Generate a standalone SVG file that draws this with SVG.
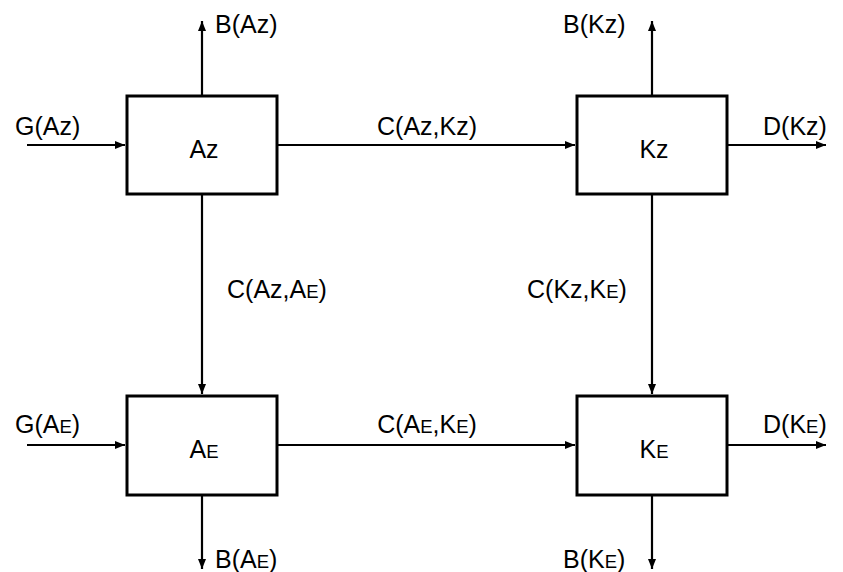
<svg xmlns="http://www.w3.org/2000/svg" width="843" height="572" viewBox="0 0 843 572">
  <style>
    .box { fill: #ffffff; stroke: #000000; stroke-width: 3; }
    .wire { fill: none; stroke: #000000; stroke-width: 2.2; marker-end: url(#arrow); }
    text { font-family: "Liberation Sans", Arial, sans-serif; font-size: 25px; fill: #000000; }
    .sc { font-size: 18.5px; }
    .mid { text-anchor: middle; }
  </style>
  <defs>
    <marker id="arrow" markerUnits="userSpaceOnUse" markerWidth="11" markerHeight="9" refX="10" refY="4" orient="auto">
      <path d="M0,0 L10,4 L0,8 Z" fill="#000000"/>
    </marker>
  </defs>

  <!-- connectors -->
  <g id="connectors">
    <line class="wire" x1="202" y1="95" x2="202" y2="21"/>
    <line class="wire" x1="652" y1="95" x2="652" y2="21"/>
    <line class="wire" x1="27" y1="145" x2="125" y2="145"/>
    <line class="wire" x1="278" y1="145" x2="575" y2="145"/>
    <line class="wire" x1="728" y1="145" x2="826" y2="145"/>
    <line class="wire" x1="202" y1="195" x2="202" y2="394"/>
    <line class="wire" x1="652" y1="195" x2="652" y2="394"/>
    <line class="wire" x1="27" y1="445" x2="125" y2="445"/>
    <line class="wire" x1="278" y1="445" x2="575" y2="445"/>
    <line class="wire" x1="728" y1="445" x2="826" y2="445"/>
    <line class="wire" x1="202" y1="496" x2="202" y2="569"/>
    <line class="wire" x1="652" y1="496" x2="652" y2="569"/>
  </g>

  <!-- connector labels -->
  <g id="labels">
    <text x="215" y="33">B(Az)</text>
    <text x="563" y="33">B(Kz)</text>
    <text x="15" y="135">G(Az)</text>
    <text x="427" y="135" class="mid">C(Az,Kz)</text>
    <text x="763" y="135">D(Kz)</text>
    <text x="227" y="298">C(Az,A<tspan class="sc">E</tspan>)</text>
    <text x="527" y="298">C(Kz,K<tspan class="sc">E</tspan>)</text>
    <text x="15" y="433">G(A<tspan class="sc">E</tspan>)</text>
    <text x="427" y="433" class="mid">C(A<tspan class="sc">E</tspan>,K<tspan class="sc">E</tspan>)</text>
    <text x="763" y="433">D(K<tspan class="sc">E</tspan>)</text>
    <text x="215" y="568">B(A<tspan class="sc">E</tspan>)</text>
    <text x="563" y="568">B(K<tspan class="sc">E</tspan>)</text>
  </g>

  <!-- nodes -->
  <g id="node-az">
    <rect class="box" x="127" y="96" width="150" height="98"/>
    <text x="204" y="158" class="mid">Az</text>
  </g>
  <g id="node-kz">
    <rect class="box" x="577" y="96" width="150" height="98"/>
    <text x="654" y="158" class="mid">Kz</text>
  </g>
  <g id="node-ae">
    <rect class="box" x="127" y="396" width="150" height="99"/>
    <text x="204" y="458" class="mid">A<tspan class="sc">E</tspan></text>
  </g>
  <g id="node-ke">
    <rect class="box" x="577" y="396" width="150" height="99"/>
    <text x="654" y="458" class="mid">K<tspan class="sc">E</tspan></text>
  </g>
</svg>
